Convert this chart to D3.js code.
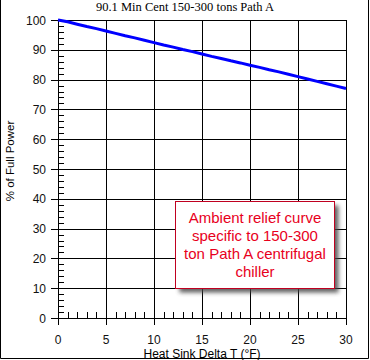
<!DOCTYPE html>
<html><head><meta charset="utf-8">
<script src="https://cdn.jsdelivr.net/npm/d3@7"></script>
<style>body{margin:0;background:#fff}svg{display:block}</style>
</head><body>
<svg id="c" width="370" height="360"></svg>
<script>
const deltaT = [0, 1, 2, 3, 4, 5, 6, 7, 8, 9, 10, 11, 12, 13, 14, 15, 16, 17, 18, 19, 20, 21, 22, 23, 24, 25, 26, 27, 28, 29, 30];
const power = [100, 99.4, 98.6, 97.8, 97.1, 96.3, 95.5, 94.7, 94.0, 93.2, 92.4, 91.6, 90.9, 90.1, 89.4, 88.6, 87.8, 87.1, 86.3, 85.6, 84.8, 84.1, 83.3, 82.6, 81.8, 81.0, 80.2, 79.4, 78.6, 77.8, 77.0];
const xTicks = [0, 5, 10, 15, 20, 25, 30];
const yTicks = [0, 10, 20, 30, 40, 50, 60, 70, 80, 90, 100];
const title = "90.1 Min Cent 150-300 tons Path A";
const xTitle = "Heat Sink Delta T (°F)";
const yTitle = "% of Full Power";
const note = ["Ambient relief curve", "specific to 150-300", "ton Path A centrifugal", "chiller"];

const svg = d3.select("#c");
const L = 58, R = 346, T = 20, B = 318;
const x = d3.scaleLinear().domain([0, 30]).range([L, R]);
const y = d3.scaleLinear().domain([0, 100]).range([B, T]);

// outer frame (left, right, bottom)
svg.append("path").attr("d", "M0.5,0V358.5H368.5V0").attr("fill", "none").attr("stroke", "#000");

// shadow filter
const defs = svg.append("defs");
const f = defs.append("filter").attr("id", "sh").attr("x", "-10%").attr("y", "-10%").attr("width", "130%").attr("height", "130%");
f.append("feGaussianBlur").attr("stdDeviation", 2);

// grid
const g = svg.append("g");
g.selectAll(".vx").data(xTicks).join("line")
  .attr("x1", d => Math.round(x(d)) + 0.5).attr("x2", d => Math.round(x(d)) + 0.5)
  .attr("y1", T).attr("y2", B).attr("stroke", "#000");
g.selectAll(".hy").data(yTicks).join("line")
  .attr("y1", d => Math.round(y(d)) + 0.5).attr("y2", d => Math.round(y(d)) + 0.5)
  .attr("x1", L).attr("x2", R + 0.5).attr("stroke", "#000");

// major ticks extending outward
g.selectAll(".mx").data(xTicks).join("line")
  .attr("x1", d => Math.round(x(d)) + 0.5).attr("x2", d => Math.round(x(d)) + 0.5)
  .attr("y1", B).attr("y2", B + 7).attr("stroke", "#000");
g.selectAll(".my").data(yTicks).join("line")
  .attr("y1", d => Math.round(y(d)) + 0.5).attr("y2", d => Math.round(y(d)) + 0.5)
  .attr("x1", L - 7).attr("x2", L).attr("stroke", "#000");

// minor ticks
const xMinor = d3.range(0, 31).filter(d => d % 5 !== 0);
const yMinor = d3.range(0, 101, 2).filter(d => d % 10 !== 0);
g.selectAll(".nx").data(xMinor).join("line")
  .attr("x1", d => Math.round(x(d)) + 0.5).attr("x2", d => Math.round(x(d)) + 0.5)
  .attr("y1", B - 6).attr("y2", B).attr("stroke", "#000");
g.selectAll(".ny").data(yMinor).join("line")
  .attr("y1", d => Math.round(y(d)) + 0.5).attr("y2", d => Math.round(y(d)) + 0.5)
  .attr("x1", L).attr("x2", L + 6).attr("stroke", "#000");

// tick labels
svg.selectAll(".xl").data(xTicks).join("text")
  .attr("x", d => x(d)).attr("y", B + 26).attr("text-anchor", "middle")
  .attr("font-family", "Liberation Sans, Arial, sans-serif").attr("font-size", 12).attr("fill", "#111")
  .text(d => d);
svg.selectAll(".yl").data(yTicks).join("text")
  .attr("x", L - 12).attr("y", d => y(d) + 4.5).attr("text-anchor", "end")
  .attr("font-family", "Liberation Sans, Arial, sans-serif").attr("font-size", 12).attr("fill", "#111")
  .text(d => d);

// titles
svg.append("text").attr("x", 185).attr("y", 11).attr("text-anchor", "middle")
  .attr("font-family", "Liberation Serif, Times New Roman, serif").attr("font-size", 12.5).text(title);
svg.append("text").attr("x", (L + R) / 2).attr("y", 358).attr("text-anchor", "middle")
  .attr("font-family", "Liberation Sans, Arial, sans-serif").attr("font-size", 12).text(xTitle);
svg.append("text").attr("transform", "translate(14,161) rotate(-90)").attr("text-anchor", "middle")
  .attr("font-family", "Liberation Sans, Arial, sans-serif").attr("font-size", 11.5).text(yTitle);

// curve
const line = d3.line().x((d, i) => x(deltaT[i])).y(d => y(d));
svg.append("path").datum(power).attr("d", line).attr("fill", "none")
  .attr("stroke", "#0000ff").attr("stroke-width", 3);

// annotation box
const bx = 175.5, by = 201.5, bw = 159, bh = 87;
svg.append("rect").attr("x", bx + 4).attr("y", by + 4).attr("width", bw).attr("height", bh)
  .attr("fill", "#444").attr("opacity", 0.85).attr("filter", "url(#sh)");
svg.append("rect").attr("x", bx).attr("y", by).attr("width", bw).attr("height", bh)
  .attr("fill", "#fff").attr("stroke", "#c00020").attr("stroke-width", 1);
svg.append("text").attr("text-anchor", "middle")
  .attr("font-family", "Liberation Sans, Arial, sans-serif").attr("font-size", 15).attr("fill", "#e8001c")
  .selectAll("tspan").data(note).join("tspan")
  .attr("x", bx + bw / 2).attr("y", (d, i) => by + 21 + i * 18).text(d => d);
</script>
</body></html>
